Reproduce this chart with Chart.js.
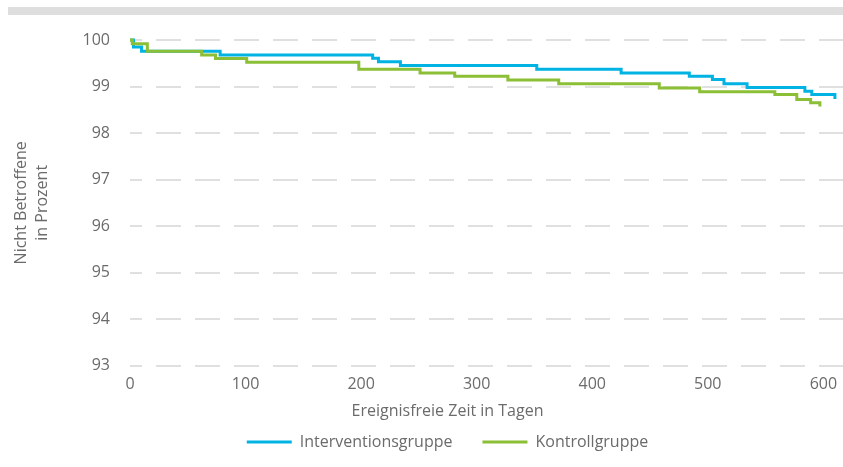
<!DOCTYPE html>
<html>
<head>
<meta charset="utf-8">
<script src="https://cdn.jsdelivr.net/npm/chart.js@4"></script>
<style>
    html, body { margin: 0; padding: 0; background: #fff; }
    #wrap { position: relative; width: 843px; height: 467px; }
    #topbar { position: absolute; left: 8px; top: 7px; width: 835px; height: 8px; background: #dedede; }
    canvas { position: absolute; left: 0; top: 0; }
</style>
</head>
<body>
<div id="wrap">
    <div id="topbar"></div>
    <canvas id="kmChart" width="843" height="467"></canvas>
</div>
<script>
// Tage, ab denen ein neuer Wert gilt (Treppenkurve)
const interventionDays = [0, 3, 10, 78, 210, 215, 234, 352, 425, 484, 504, 514, 534, 584, 590, 610];
const interventionPct  = [100, 99.85, 99.76, 99.68, 99.61, 99.53, 99.45, 99.37, 99.29, 99.22, 99.15, 99.06, 98.98, 98.90, 98.83, 98.73];

const kontrollDays = [0, 2, 15, 62, 74, 101, 198, 251, 281, 327, 371, 458, 493, 558, 577, 589, 597];
const kontrollPct  = [100, 99.92, 99.76, 99.68, 99.60, 99.52, 99.37, 99.29, 99.22, 99.14, 99.06, 98.97, 98.89, 98.83, 98.72, 98.65, 98.57];

const xTicks = [0, 100, 200, 300, 400, 500, 600];
const yTicks = [93, 94, 95, 96, 97, 98, 99, 100];

const toPoints = (xs, ys) => xs.map((x, i) => ({ x, y: ys[i] }));

const textColor = "#6b6b6b";
const fontFamily = "'Open Sans', 'Noto Sans', sans-serif";
const baseFont = { family: fontFamily, size: 16 };

new Chart(document.getElementById("kmChart"), {
    type: "line",
    data: {
        datasets: [
            {
                label: "Interventionsgruppe",
                data: toPoints(interventionDays, interventionPct),
                borderColor: "#00b3e3",
                backgroundColor: "#00b3e3",
                borderWidth: 3,
                pointRadius: 0,
                stepped: true,
                clip: false,
                order: 1,
            },
            {
                label: "Kontrollgruppe",
                data: toPoints(kontrollDays, kontrollPct),
                borderColor: "#8bbf36",
                backgroundColor: "#8bbf36",
                borderWidth: 3,
                pointRadius: 0,
                stepped: true,
                clip: false,
                order: 0,
            }
        ]
    },
    options: {
        responsive: false,
        animation: false,
        layout: { padding: { top: 40, right: 0, left: 52, bottom: 7 } },
        plugins: {
            tooltip: { enabled: false },
            legend: {
                position: "bottom",
                // x-Achsentitel sitzt als Legendentitel über den Einträgen
                title: {
                    display: true,
                    text: "Ereignisfreie Zeit in Tagen",
                    color: textColor,
                    font: baseFont,
                    padding: { top: 1, bottom: -19 }
                },
                labels: {
                    color: textColor,
                    font: baseFont,
                    usePointStyle: true,
                    pointStyle: "line",
                    pointStyleWidth: 45,
                    padding: 30,
                    sort: (a, b) => a.datasetIndex - b.datasetIndex,
                }
            }
        },
        scales: {
            x: {
                type: "linear",
                min: 0,
                max: 617,
                afterBuildTicks: axis => { axis.ticks = xTicks.map(v => ({ value: v })); },
                afterFit: scale => { scale.paddingLeft = 0; scale.paddingRight = 0; },
                grid: { display: false, drawTicks: false },
                border: { display: false },
                ticks: { color: textColor, font: baseFont, padding: 9, maxRotation: 0 },
            },
            y: {
                min: 93,
                max: 100,
                afterBuildTicks: axis => { axis.ticks = yTicks.map(v => ({ value: v })); },
                afterFit: scale => { scale.width = 78; },
                grid: {
                    color: "#e0e0e0",
                    lineWidth: 2,
                    drawTicks: false,
                },
                border: { display: false, dash: [25, 14], dashOffset: 13 },
                ticks: { color: textColor, font: baseFont, padding: 20 },
                title: {
                    display: true,
                    text: ["Nicht Betroffene", "in Prozent"],
                    color: textColor,
                    font: { family: fontFamily, size: 16, lineHeight: 1.3 },
                    padding: { top: -41, bottom: 0 }
                }
            }
        }
    }
});
</script>
</body>
</html>
